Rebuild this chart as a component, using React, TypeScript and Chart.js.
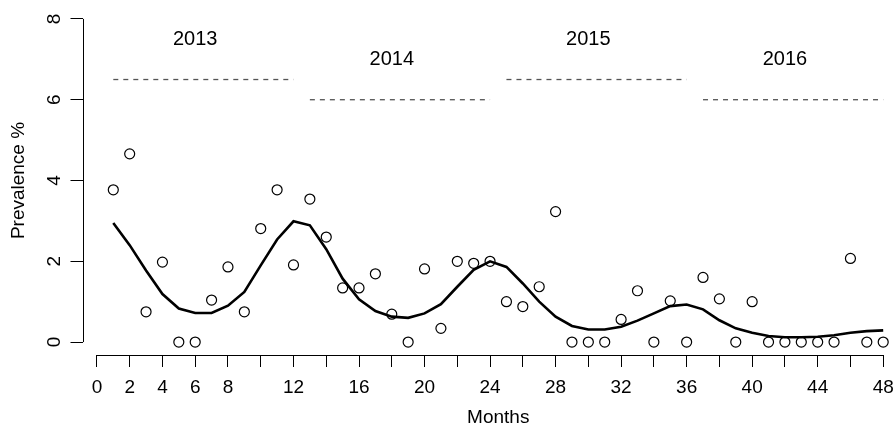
import React, { useEffect, useRef } from "react";
import { Chart, registerables } from "chart.js";

Chart.register(...registerables);

const months = [
  1, 2, 3, 4, 5, 6, 7, 8, 9, 10, 11, 12, 13, 14, 15, 16, 17, 18, 19, 20, 21, 22, 23, 24,
  25, 26, 27, 28, 29, 30, 31, 32, 33, 34, 35, 36, 37, 38, 39, 40, 41, 42, 43, 44, 45, 46, 47, 48,
];

const prevalence = [
  3.77, 4.66, 0.75, 1.98, 0, 0, 1.04, 1.86, 0.75, 2.81, 3.77, 1.91,
  3.54, 2.6, 1.34, 1.34, 1.69, 0.69, 0, 1.81, 0.34, 2.0, 1.95, 2.0,
  1.0, 0.88, 1.37, 3.23, 0, 0, 0, 0.56, 1.27, 0, 1.02, 0,
  1.6, 1.07, 0, 1.0, 0, 0, 0, 0, 0, 2.07, 0, 0,
];

const smoothed = [
  2.95, 2.4, 1.77, 1.19, 0.83, 0.72, 0.72, 0.9, 1.24, 1.9, 2.54, 2.99,
  2.89, 2.3, 1.57, 1.06, 0.77, 0.63, 0.6, 0.71, 0.94, 1.37, 1.79, 2.0,
  1.86, 1.45, 1.0, 0.63, 0.4, 0.31, 0.31, 0.38, 0.53, 0.71, 0.89, 0.93,
  0.81, 0.54, 0.34, 0.23, 0.15, 0.12, 0.12, 0.13, 0.17, 0.23, 0.27, 0.29,
];

const yearLabels = ["2013", "2014", "2015", "2016"];
const yearLabelX = [6, 18, 30, 42];
const yearLabelY = [7.5, 7, 7.5, 7];
const yearStart = [1, 13, 25, 37];
const yearEnd = [12, 24, 36, 48];
const yearLineY = [6.5, 6, 6.5, 6];

const xTicks = [0, 2, 4, 6, 8, 10, 12, 14, 16, 18, 20, 22, 24, 26, 28, 30, 32, 34, 36, 38, 40, 42, 44, 46, 48];
const xTickLabels = [0, 2, 4, 6, 8, 12, 16, 20, 24, 28, 32, 36, 40, 44, 48];
const yTicks = [0, 2, 4, 6, 8];

const FONT = "'Liberation Sans', Arial, Helvetica, sans-serif";

const rAxesPlugin = {
  id: "rAxes",
  afterDraw(chart: any) {
    const { ctx, chartArea, scales } = chart;
    const xs = scales.x;
    const ys = scales.y;
    ctx.save();
    ctx.strokeStyle = "#000";
    ctx.lineWidth = 1;
    const yb = Math.round(chartArea.bottom) + 0.5;
    ctx.beginPath();
    ctx.moveTo(xs.getPixelForValue(xTicks[0]), yb);
    ctx.lineTo(xs.getPixelForValue(xTicks[xTicks.length - 1]), yb);
    ctx.stroke();
    const xl = Math.round(chartArea.left) + 0.5;
    ctx.beginPath();
    ctx.moveTo(xl, ys.getPixelForValue(yTicks[0]));
    ctx.lineTo(xl, ys.getPixelForValue(yTicks[yTicks.length - 1]));
    ctx.stroke();
    ctx.fillStyle = "#000";
    ctx.font = `20px ${FONT}`;
    ctx.textAlign = "center";
    ctx.textBaseline = "middle";
    yearLabels.forEach((t, i) => {
      ctx.fillText(t, xs.getPixelForValue(yearLabelX[i]), ys.getPixelForValue(yearLabelY[i]));
    });
    ctx.restore();
  },
};

export default function App() {
  const canvasRef = useRef<HTMLCanvasElement | null>(null);

  useEffect(() => {
    if (!canvasRef.current) return;
    const yearDatasets = yearLabels.map((label, i) => ({
      type: "line" as const,
      label: `${label} period`,
      data: [
        { x: yearStart[i], y: yearLineY[i] },
        { x: yearEnd[i], y: yearLineY[i] },
      ],
      borderColor: "#555",
      borderWidth: 1.3,
      borderDash: [5, 5],
      pointRadius: 0,
      showLine: true,
      fill: false,
    }));

    const chart = new Chart(canvasRef.current, {
      type: "scatter",
      data: {
        datasets: [
          {
            type: "line",
            label: "Smoothed",
            data: months.map((m, i) => ({ x: m, y: smoothed[i] })),
            borderColor: "#000",
            borderWidth: 2.6,
            pointRadius: 0,
            tension: 0,
            fill: false,
          },
          {
            type: "scatter",
            label: "Prevalence",
            data: months.map((m, i) => ({ x: m, y: prevalence[i] })),
            pointStyle: "circle",
            pointRadius: 5,
            pointBorderWidth: 1.2,
            borderColor: "#000",
            backgroundColor: "rgba(0,0,0,0)",
            clip: false,
          } as any,
          ...yearDatasets,
        ] as any,
      },
      options: {
        animation: false,
        responsive: true,
        maintainAspectRatio: false,
        layout: { autoPadding: false, padding: { top: 6, right: 0, left: 0, bottom: 0 } },
        plugins: {
          legend: { display: false },
          tooltip: { enabled: false },
        },
        scales: {
          x: {
            type: "linear",
            min: -0.88,
            max: 49.88,
            afterBuildTicks: (scale: any) => {
              scale.ticks = xTicks.map((v) => ({ value: v }));
            },
            afterFit: (scale: any) => {
              scale.height = 73;
              scale.paddingLeft = 0;
              scale.paddingRight = 0;
            },
            grid: {
              display: true,
              drawOnChartArea: false,
              drawTicks: true,
              tickLength: 12,
              color: "#000",
              lineWidth: 1,
            },
            border: { display: false },
            ticks: {
              autoSkip: false,
              maxRotation: 0,
              minRotation: 0,
              padding: 9,
              color: "#000",
              font: { family: FONT, size: 19 },
              callback: (value: any) => (xTickLabels.includes(Number(value)) ? String(value) : ""),
            },
            title: {
              display: true,
              text: "Months",
              color: "#000",
              font: { family: FONT, size: 19, lineHeight: 1 },
              padding: { top: 0, bottom: 1 },
            },
          },
          y: {
            type: "linear",
            min: -0.32,
            max: 8.32,
            afterBuildTicks: (scale: any) => {
              scale.ticks = yTicks.map((v) => ({ value: v }));
            },
            afterFit: (scale: any) => {
              scale.width = 82.5;
              scale.paddingTop = 0;
              scale.paddingBottom = 0;
            },
            grid: {
              display: true,
              drawOnChartArea: false,
              drawTicks: true,
              tickLength: 12,
              color: "#000",
              lineWidth: 1,
            },
            border: { display: false },
            ticks: {
              minRotation: 90,
              maxRotation: 90,
              crossAlign: "center",
              padding: 10,
              color: "#000",
              font: { family: FONT, size: 19 },
              callback: (value: any) => String(value),
            },
            title: {
              display: true,
              text: "Prevalence %",
              color: "#000",
              font: { family: FONT, size: 19, lineHeight: 1 },
              padding: { top: 9, bottom: 0 },
            },
          },
        },
      },
      plugins: [rAxesPlugin],
    });
    return () => chart.destroy();
  }, []);

  return (
    <div style={{ position: "fixed", left: 0, top: 0, width: 895, height: 428, overflow: "hidden", background: "#fff" }}>
      <div style={{ position: "relative", width: 914, height: 428 }}>
        <canvas ref={canvasRef} />
      </div>
    </div>
  );
}
